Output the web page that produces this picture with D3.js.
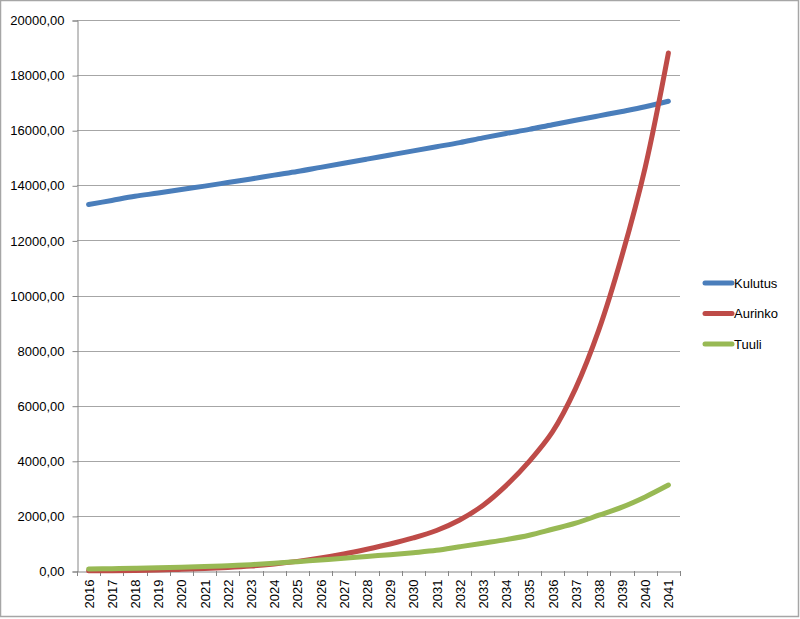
<!DOCTYPE html>
<html><head><meta charset="utf-8">
<script src="https://cdn.jsdelivr.net/npm/d3@7/dist/d3.min.js"></script>
<style>body{margin:0;background:#fff}svg{display:block}text{font-family:"Liberation Sans",Arial,sans-serif;fill:#000}</style>
</head><body><svg id="c" width="800" height="619"></svg>
<script>
const years = ["2016","2017","2018","2019","2020","2021","2022","2023","2024","2025","2026","2027","2028","2029","2030","2031","2032","2033","2034","2035","2036","2037","2038","2039","2040","2041"];
const kulutus = [13300,13450,13600,13720,13850,13970,14100,14230,14370,14500,14650,14800,14950,15100,15250,15400,15550,15720,15880,16030,16200,16360,16520,16680,16850,17050];
const aurinko = [5,12,22,38,60,95,130,180,255,350,470,617,790,980,1200,1470,1850,2380,3100,3980,5050,6630,8750,11450,14650,18800];
const tuuli = [70,85,100,120,140,160,195,230,280,340,400,460,530,590,665,750,880,1010,1140,1300,1515,1735,2025,2320,2690,3120];
const yTicks = [0,2000,4000,6000,8000,10000,12000,14000,16000,18000,20000];
const seriesNames = ["Kulutus","Aurinko","Tuuli"];
const seriesColors = ["#4a7ebb","#be4b48","#98b954"];
const seriesData = [kulutus, aurinko, tuuli];

const svg = d3.select("#c");
svg.append("rect").attr("x",0.5).attr("y",0.5).attr("width",798).attr("height",616)
  .attr("fill","#fff").attr("stroke","#a6a6a6").attr("stroke-width",1.5);

const L=77, R=680, T=20, B=571;
const x = d3.scaleBand().domain(years).range([L,R]);
const y = d3.scaleLinear().domain([0,20000]).range([B,T]);

// gridlines
svg.append("g").selectAll("line").data(yTicks.filter(d=>d>0)).join("line")
  .attr("x1",L).attr("x2",R).attr("y1",d=>Math.round(y(d))+0.5).attr("y2",d=>Math.round(y(d))+0.5)
  .attr("stroke","#a6a6a6").attr("stroke-width",1);

// y axis
const fmt = d => d3.format(".2f")(d).replace(".",",");
const ya = svg.append("g").attr("transform",`translate(${L+0.5},0.5)`)
  .call(d3.axisLeft(y).tickValues(yTicks).tickFormat(fmt).tickSizeOuter(0).tickSize(5).tickPadding(8));
ya.selectAll("path,line").attr("stroke","#868686");
ya.selectAll("text").attr("font-size",13).style("font-family","'Liberation Sans',Arial,sans-serif");

// x axis
const xa = svg.append("g").attr("transform",`translate(0.5,${B+0.5})`)
  .call(d3.axisBottom(x).tickSize(0).tickSizeOuter(0));
xa.select("path").attr("stroke","#868686");
xa.selectAll(".tick line").remove();
xa.selectAll("text").attr("font-size",13).attr("transform","rotate(-90)")
  .attr("text-anchor","end").attr("x",-8).attr("y",0).attr("dy","0.35em")
  .style("font-family","'Liberation Sans',Arial,sans-serif");
// category boundary ticks
const bounds = years.map(d=>x(d)).concat([R]);
svg.append("g").selectAll("line").data(bounds).join("line")
  .attr("x1",d=>Math.round(d)+0.5).attr("x2",d=>Math.round(d)+0.5).attr("y1",B).attr("y2",B+5)
  .attr("stroke","#868686");

// lines
const line = d3.line().x((d,i)=>x(years[i])+x.bandwidth()/2).y(d=>y(d)).curve(d3.curveCatmullRom.alpha(0.5));
seriesData.forEach((s,k)=>{
  svg.append("path").datum(s).attr("d",line).attr("fill","none")
    .attr("stroke",seriesColors[k]).attr("stroke-width",5).attr("stroke-linecap","round").attr("stroke-linejoin","round");
});

// legend
const lg = svg.append("g");
seriesNames.forEach((n,k)=>{
  const yy = 283 + k*30.5;
  lg.append("line").attr("x1",705).attr("x2",732).attr("y1",yy).attr("y2",yy)
    .attr("stroke",seriesColors[k]).attr("stroke-width",5).attr("stroke-linecap","round");
  lg.append("text").attr("x",734).attr("y",yy).attr("dy","0.35em").attr("font-size",13).text(n);
});
</script></body></html>
